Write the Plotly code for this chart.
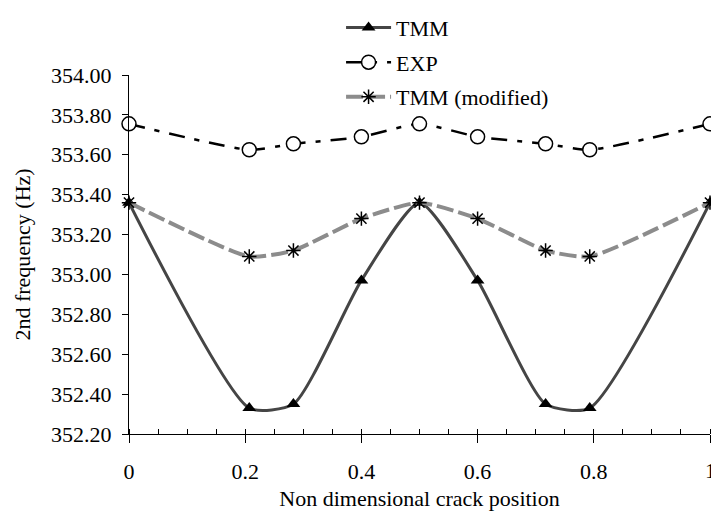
import plotly.graph_objects as go

# Data
crack_pos = [0, 0.207, 0.283, 0.4, 0.5, 0.6, 0.717, 0.793, 1]
tmm = [353.36, 352.33, 352.35, 352.97, 353.36, 352.97, 352.35, 352.33, 353.36]
exp = [353.755, 353.625, 353.655, 353.69, 353.755, 353.69, 353.655, 353.625, 353.755]
tmm_mod = [353.36, 353.09, 353.12, 353.28, 353.36, 353.28, 353.12, 353.09, 353.36]
x_ticks = [0, 0.2, 0.4, 0.6, 0.8, 1]
x_tick_labels = ["0", "0.2", "0.4", "0.6", "0.8", "1"]
y_ticks = [352.2, 352.4, 352.6, 352.8, 353.0, 353.2, 353.4, 353.6, 353.8, 354.0]

FONT = "Times New Roman, Liberation Serif, serif"
FS = 22

fig = go.Figure()
fig.add_trace(go.Scatter(
    x=crack_pos, y=tmm, name="TMM", mode="lines+markers",
    line=dict(color="#454545", width=3, shape="spline", smoothing=0.6),
    marker=dict(symbol="triangle-up", size=12, color="black"),
    legendgroup="a", cliponaxis=False,
))
fig.add_trace(go.Scatter(
    x=crack_pos, y=exp, name="EXP", mode="lines+markers",
    line=dict(color="black", width=2.5, dash="16px,10px,5px,10px", shape="spline", smoothing=0.55),
    marker=dict(symbol="circle", size=14, color="white", line=dict(color="black", width=1.5)),
    legendgroup="b", cliponaxis=False,
))
fig.add_trace(go.Scatter(
    x=crack_pos, y=tmm_mod, name="TMM (modified)", mode="lines+markers",
    line=dict(color="#8c8c8c", width=4, dash="17px,5px", shape="spline", smoothing=0.55),
    marker=dict(symbol="asterisk-open", size=12, color="black", line=dict(color="black", width=1.5)),
    legendgroup="c", cliponaxis=False,
))

# the last x tick label sits on the window edge (partly cut, as in the reference)
fig.add_annotation(
    x=x_ticks[-1], y=0, xref="x", yref="paper", yanchor="top", yshift=-22,
    text=x_tick_labels[-1], showarrow=False, font=dict(family=FONT, size=FS, color="black"),
)

fig.update_layout(
    width=711, height=511,
    margin=dict(l=129, r=1, t=75, b=77, autoexpand=False),
    paper_bgcolor="white", plot_bgcolor="white",
    font=dict(family=FONT, size=FS, color="black"),
    showlegend=True,
    legend=dict(
        x=0.365, y=1.19, xanchor="left", yanchor="top",
        bgcolor="rgba(0,0,0,0)", tracegroupgap=3, itemwidth=45,
        font=dict(family=FONT, size=FS, color="black"),
    ),
    xaxis=dict(
        range=[0, 1], tickvals=x_ticks, ticktext=x_tick_labels[:-1] + [""], automargin=False,
        showgrid=False, zeroline=False, showline=True, linecolor="black", linewidth=1,
        ticks="outside", ticklen=8, tickcolor="black", ticklabelstandoff=10,
        minor=dict(dtick=0.05, tick0=0, ticks="inside", ticklen=5, tickcolor="black"),
        title=dict(text="Non dimensional crack position", standoff=10,
                   font=dict(family=FONT, size=FS)),
    ),
    yaxis=dict(
        range=[352.2, 354.0], tickvals=y_ticks, tickformat=".2f", automargin=False,
        showgrid=False, zeroline=False, showline=True, linecolor="black", linewidth=1,
        ticks="outside", ticklen=6, tickcolor="black", ticklabelstandoff=6,
        title=dict(text="2nd frequency (Hz)", standoff=14,
                   font=dict(family=FONT, size=FS)),
    ),
)

fig.write_html(
    "out.html",
    config={"displayModeBar": False},
    post_script="document.body.style.margin='0';document.body.style.overflow='hidden';",
)
